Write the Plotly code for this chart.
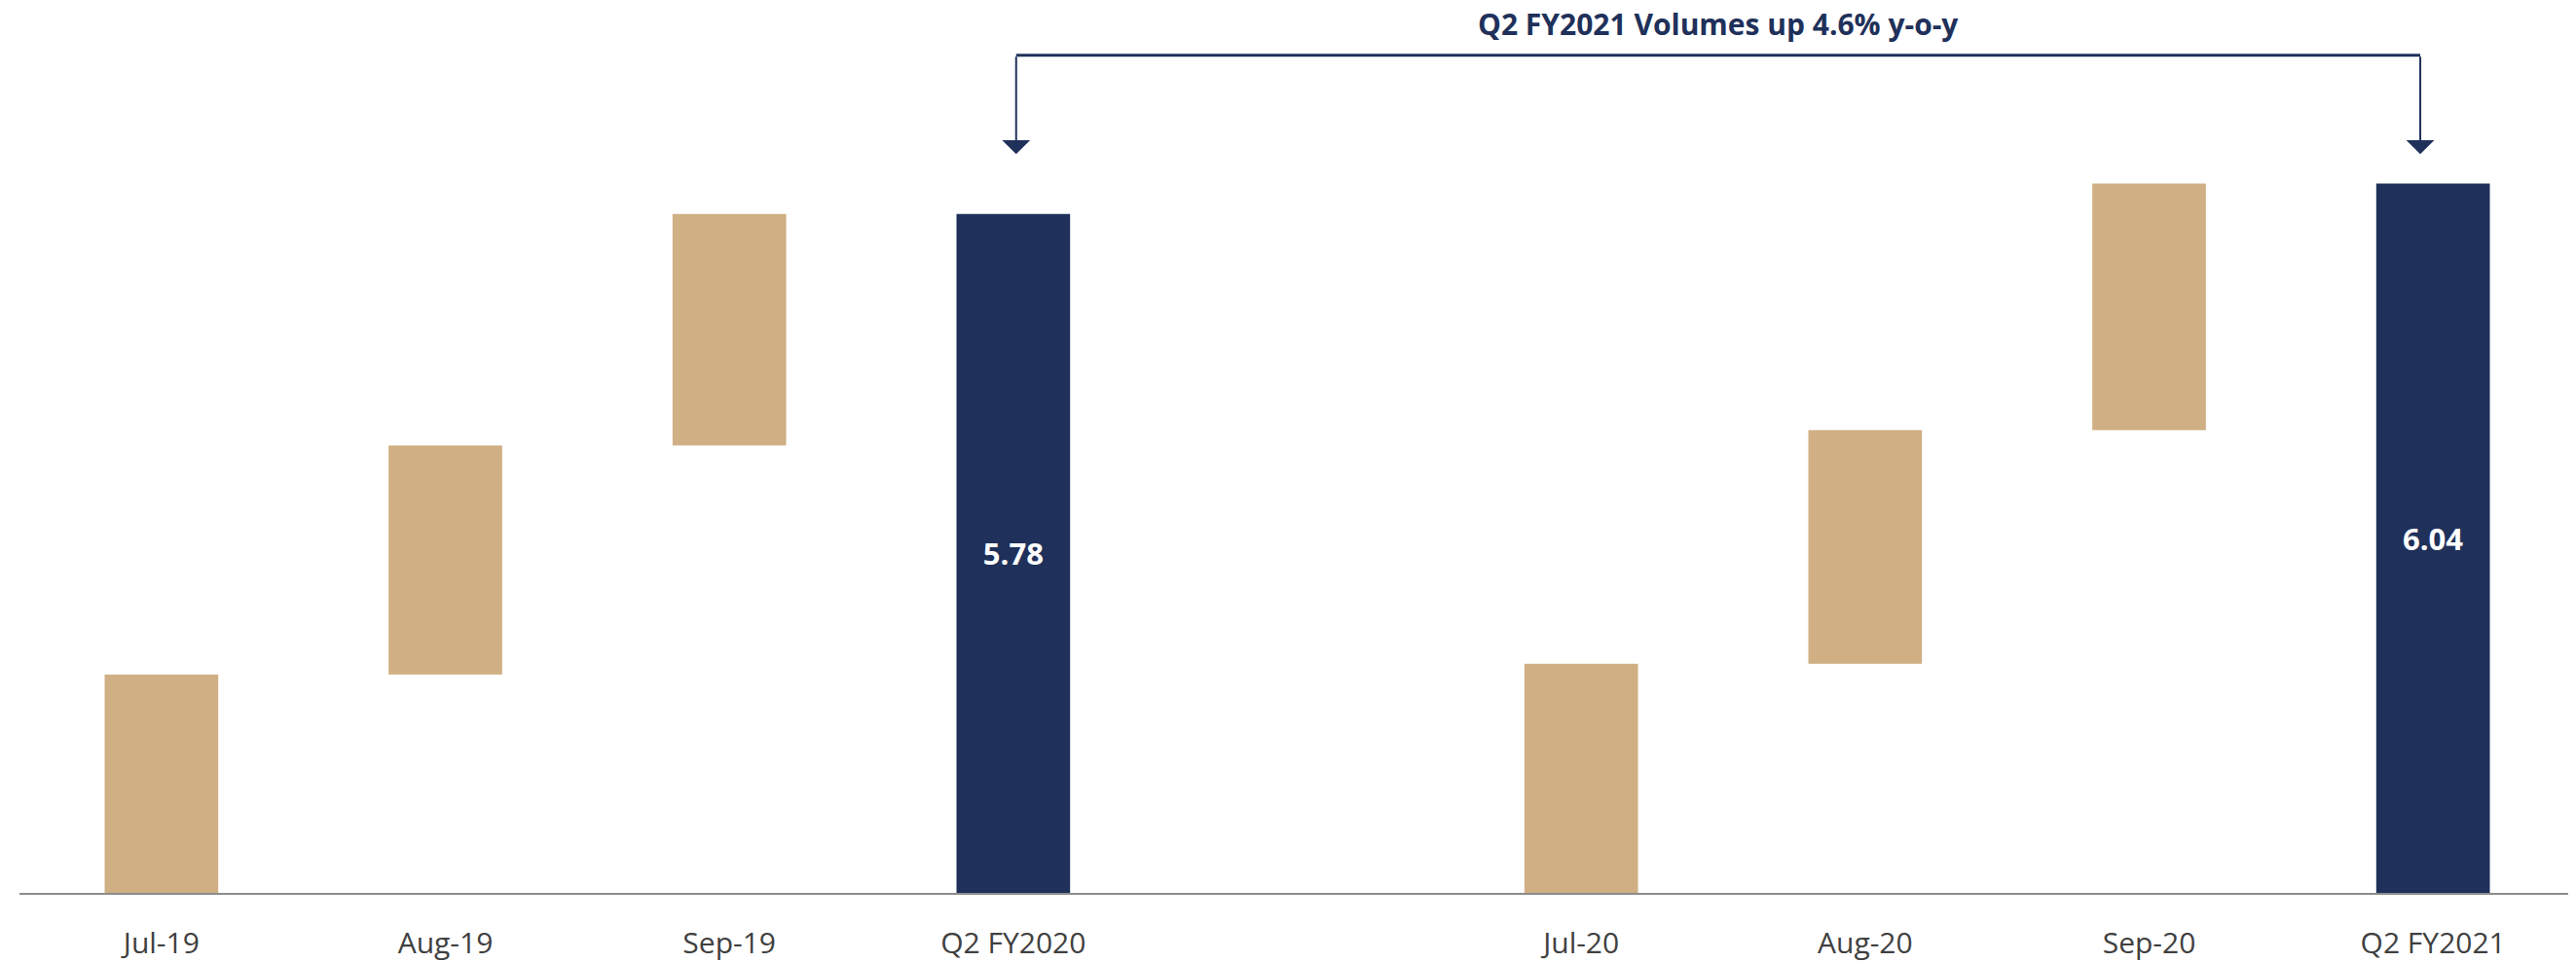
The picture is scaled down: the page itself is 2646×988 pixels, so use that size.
import numpy as np
import plotly.graph_objects as go

# ---- data ----
categories = ["Jul-19", "Aug-19", "Sep-19", "Q2 FY2020", " ",
              "Jul-20", "Aug-20", "Sep-20", "Q2 FY2021"]
months_fy20 = ["Jul-19", "Aug-19", "Sep-19"]
values_fy20 = [1.86, 1.95, 1.97]
months_fy21 = ["Jul-20", "Aug-20", "Sep-20"]
values_fy21 = [1.95, 1.99, 2.10]
total_labels = ["Q2 FY2020", "Q2 FY2021"]
total_values = [5.78, 6.04]
headline = "Q2 FY2021 Volumes up 4.6% y-o-y"

GOLD = "#CFAF83"
NAVY = "#1F315A"
FONT = "Open Sans"

# floating bar bases from cumulative sums
base_fy20 = list(np.concatenate([[0], np.cumsum(values_fy20)[:-1]]))
base_fy21 = list(np.concatenate([[0], np.cumsum(values_fy21)[:-1]]))

fig = go.Figure()
fig.add_trace(go.Bar(
    x=months_fy20 + months_fy21,
    y=values_fy20 + values_fy21,
    base=base_fy20 + base_fy21,
    marker=dict(color=GOLD, line=dict(width=0)),
    hoverinfo="skip",
))
fig.add_trace(go.Bar(
    x=total_labels,
    y=total_values,
    marker=dict(color=NAVY, line=dict(width=0)),
    text=[f"{v:.2f}" for v in total_values],
    textposition="inside",
    insidetextanchor="middle",
    textangle=0,
    textfont=dict(family=FONT, size=31, color="white", weight="bold"),
    hoverinfo="skip",
))

# page body has an 8px default margin; compensate
OFF = 8
W, H = 2646 - OFF, 988 - OFF
px_per_unit = 121.15
base_px = 921                      # page y of the x axis
plot_h = base_px - OFF
ymax = plot_h / px_per_unit

def ypx(p):
    return (base_px - p) / px_per_unit

x_left = 3.01
x_right = 7.955
y_bar = ypx(57)
y_tip = ypx(159)

# bracket horizontal line
fig.add_shape(type="line", xref="x", yref="y",
              x0=x_left, x1=x_right, y0=y_bar, y1=y_bar,
              line=dict(color=NAVY, width=3))
# arrows down
for xa in (x_left, x_right):
    fig.add_annotation(x=xa, y=y_tip, xref="x", yref="y",
                       ax=xa, ay=y_bar, axref="x", ayref="y",
                       text="", showarrow=True, arrowhead=1,
                       arrowsize=2.4, arrowwidth=2, arrowcolor=NAVY)

fig.add_annotation(x=(x_left + x_right) / 2, y=ypx(25), xref="x", yref="y",
                   text=headline, showarrow=False,
                   font=dict(family=FONT, size=30, color=NAVY, weight="bold"),
                   xanchor="center", yanchor="middle")

fig.update_layout(
    width=W, height=H,
    margin=dict(l=20 - OFF, r=1, t=0, b=H - plot_h),
    paper_bgcolor="white", plot_bgcolor="white",
    showlegend=False,
    barmode="overlay",
    bargap=0.6,
    font=dict(family=FONT),
)
fig.update_xaxes(
    type="category", categoryorder="array", categoryarray=categories,
    range=[-0.5, 8.5],
    showgrid=False, zeroline=False,
    showline=True, linecolor="#8C8C8C", linewidth=2,
    ticks="outside", ticklen=24, tickcolor="rgba(0,0,0,0)",
    tickfont=dict(family=FONT, size=30, color="#404040"),
)
fig.update_yaxes(
    range=[0, ymax], visible=False, showgrid=False, zeroline=False,
)

fig.write_html("out.html")
